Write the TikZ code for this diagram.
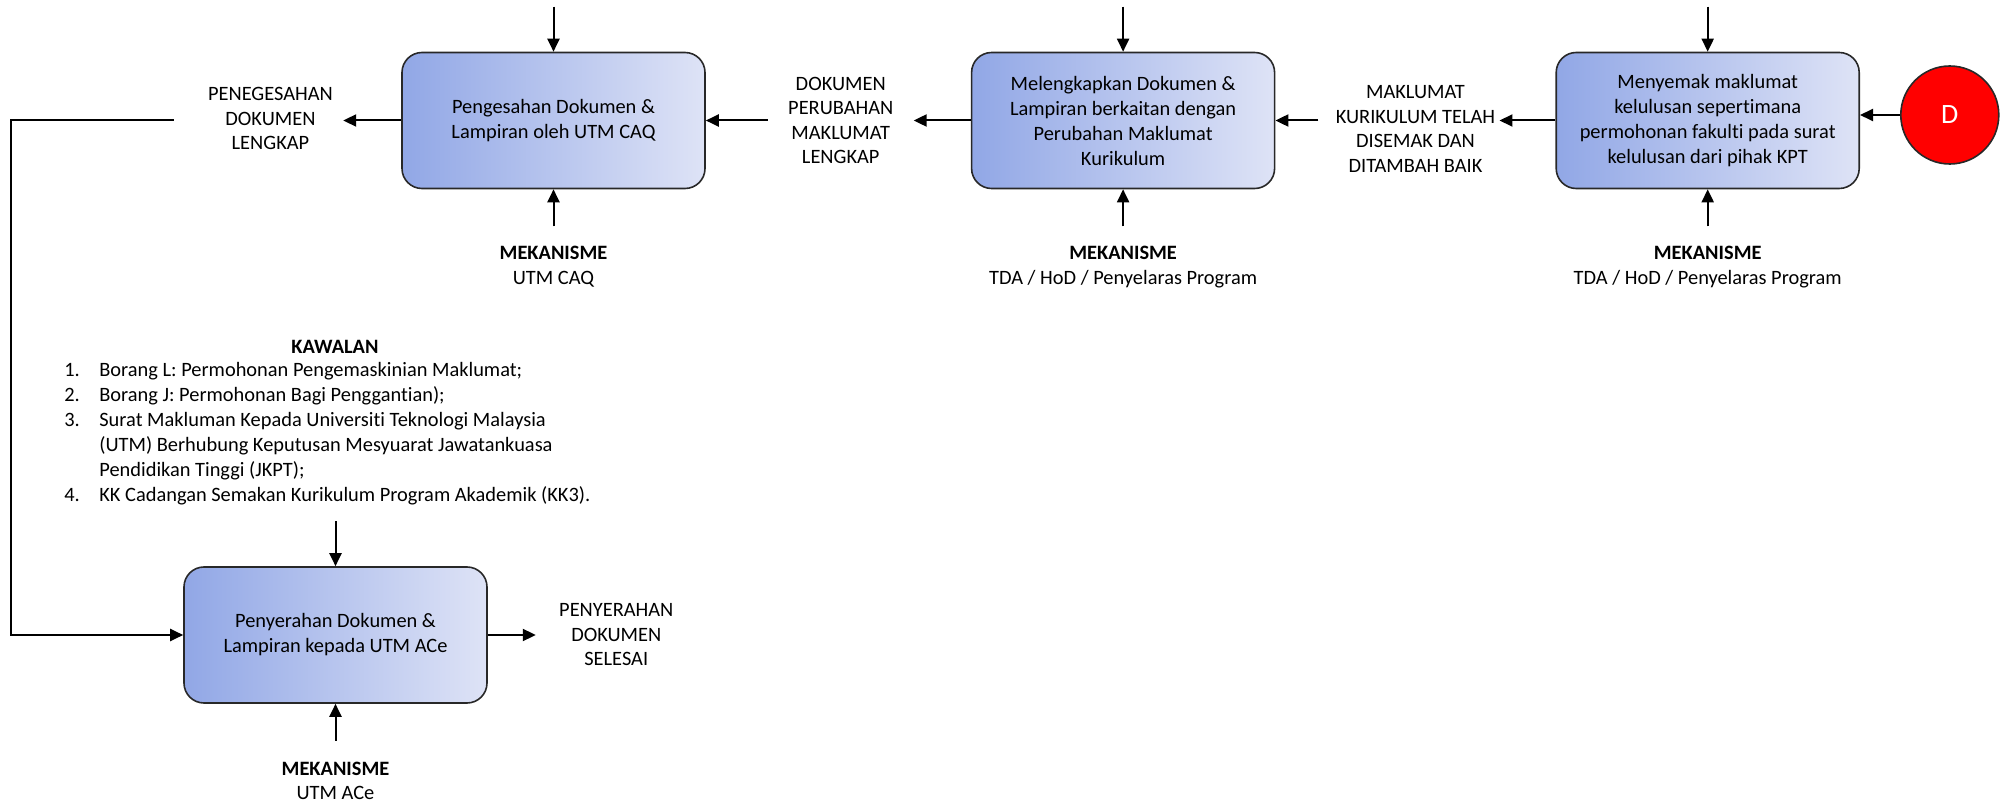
\documentclass[tikz,border=0pt]{standalone}
\usepackage{fontspec}
\setmainfont{Carlito}[Ligatures=NoCommon]
\usetikzlibrary{arrows.meta, positioning}

\definecolor{boxleft}{RGB}{145,167,230}
\definecolor{boxright}{RGB}{222,227,246}
\definecolor{boxline}{RGB}{40,40,40}

\begin{document}
\begin{tikzpicture}[
    x=0.5pt, y=-0.5pt,
    every node/.style={font=\fontsize{10.2}{12.25}\selectfont, inner sep=0pt},
    proc/.style={draw=boxline, line width=0.8pt, rounded corners=10pt, left color=boxleft, right color=boxright, align=center, minimum width=151.5pt, minimum height=68pt, font=\fontsize{10.2}{12.5}\selectfont},
    lbl/.style={align=center},
    arrow/.style={-{Triangle[length=6.5pt, width=6pt]}, line width=1pt}
]
\useasboundingbox (0,0) rectangle (2015,802);

% Nodes
\node[proc] (pengesahan) at (553.5,120.5) {Pengesahan Dokumen \&\\ Lampiran oleh UTM CAQ};
\node[proc, right=132.5pt of pengesahan] (lengkap) {Melengkapkan Dokumen \&\\ Lampiran berkaitan dengan\\ Perubahan Maklumat\\ Kurikulum};
\node[proc, right=140pt of lengkap] (semak) {Menyemak maklumat\\ kelulusan sepertimana\\ permohonan fakulti pada surat\\ kelulusan dari pihak KPT};
\node[draw=boxline, line width=0.8pt, circle, fill=red, minimum size=49pt, font=\fontsize{14}{16}\selectfont, text=white, right=20pt of semak, yshift=2.75pt] (d) {D};
\node[proc] (penyerahan) at (335.5,635) {Penyerahan Dokumen \&\\ Lampiran kepada UTM ACe};

% Labels - output
\node[lbl, left=34pt of pengesahan, yshift=1pt] (sahdok) {PENEGESAHAN\\ DOKUMEN\\ LENGKAP};
\node[lbl, right=41pt of pengesahan] (ubahdok) {DOKUMEN\\ PERUBAHAN\\ MAKLUMAT\\ LENGKAP};
\node[lbl, right=30pt of lengkap, yshift=-4.25pt] (disemak) {MAKLUMAT\\ KURIKULUM TELAH\\ DISEMAK DAN\\ DITAMBAH BAIK};
\node[lbl, right=35.5pt of penyerahan] (selesai) {PENYERAHAN\\ DOKUMEN\\ SELESAI};

% Kawalan and mekanisme
\foreach \b in {pengesahan, lengkap, semak, penyerahan} {
  \coordinate[above=22.5pt of \b] (\b-in);
  \coordinate[below=18.5pt of \b] (\b-mek);
}
\node[lbl, below=9.75pt of pengesahan-mek] (mek1) {\textbf{MEKANISME}\\ UTM CAQ};
\node[lbl, below=9.75pt of lengkap-mek] (mek2) {\textbf{MEKANISME}\\ TDA / HoD / Penyelaras Program};
\node[lbl, below=9.75pt of semak-mek] (mek3) {\textbf{MEKANISME}\\ TDA / HoD / Penyelaras Program};
\node[lbl, below=10.25pt of penyerahan-mek] (mek4) {\textbf{MEKANISME}\\ UTM ACe};

\node[lbl, font=\fontsize{10.2}{12.25}\selectfont\bfseries] (kawalan) at (335,347) {KAWALAN};
\node[anchor=north west, align=left, font=\fontsize{10.2}{12.5}\selectfont] (senarai) at (64,362) {%
  \makebox[17.5pt][l]{1.}Borang L: Permohonan Pengemaskinian Maklumat;\\
  \makebox[17.5pt][l]{2.}Borang J: Permohonan Bagi Penggantian);\\
  \makebox[17.5pt][l]{3.}Surat Makluman Kepada Universiti Teknologi Malaysia\\
  \hspace*{17.5pt}(UTM) Berhubung Keputusan Mesyuarat Jawatankuasa\\
  \hspace*{17.5pt}Pendidikan Tinggi (JKPT);\\
  \makebox[17.5pt][l]{4.}KK Cadangan Semakan Kurikulum Program Akademik (KK3).};

% Arrows - kawalan and mekanisme
\foreach \b in {pengesahan, lengkap, semak, penyerahan} {
  \draw[arrow] (\b-in) -- (\b);
  \draw[arrow] (\b-mek) -- (\b);
}

% Arrows - main flow
\draw[arrow] (d.west) -- (d.west -| semak.east);
\draw[arrow, shorten >=2pt] (semak.west) -- (semak.west -| disemak.east);
\draw[arrow, shorten <=8.5pt] (lengkap.east -| disemak.west) -- (lengkap.east);
\draw[arrow, shorten >=10pt] (lengkap.west) -- (lengkap.west -| ubahdok.east);
\draw[arrow, shorten <=10pt] (pengesahan.east -| ubahdok.west) -- (pengesahan.east);
\draw[arrow, shorten >=5pt] (pengesahan.west) -- (pengesahan.west -| sahdok.east);
\coordinate (balik) at (11,120.5);
\draw[arrow, shorten <=17pt] (pengesahan.west -| sahdok.west) -- (balik) |- (penyerahan.west);
\draw[arrow, shorten >=11.5pt] (penyerahan.east) -- (penyerahan.east -| selesai.west);

\end{tikzpicture}
\end{document}
